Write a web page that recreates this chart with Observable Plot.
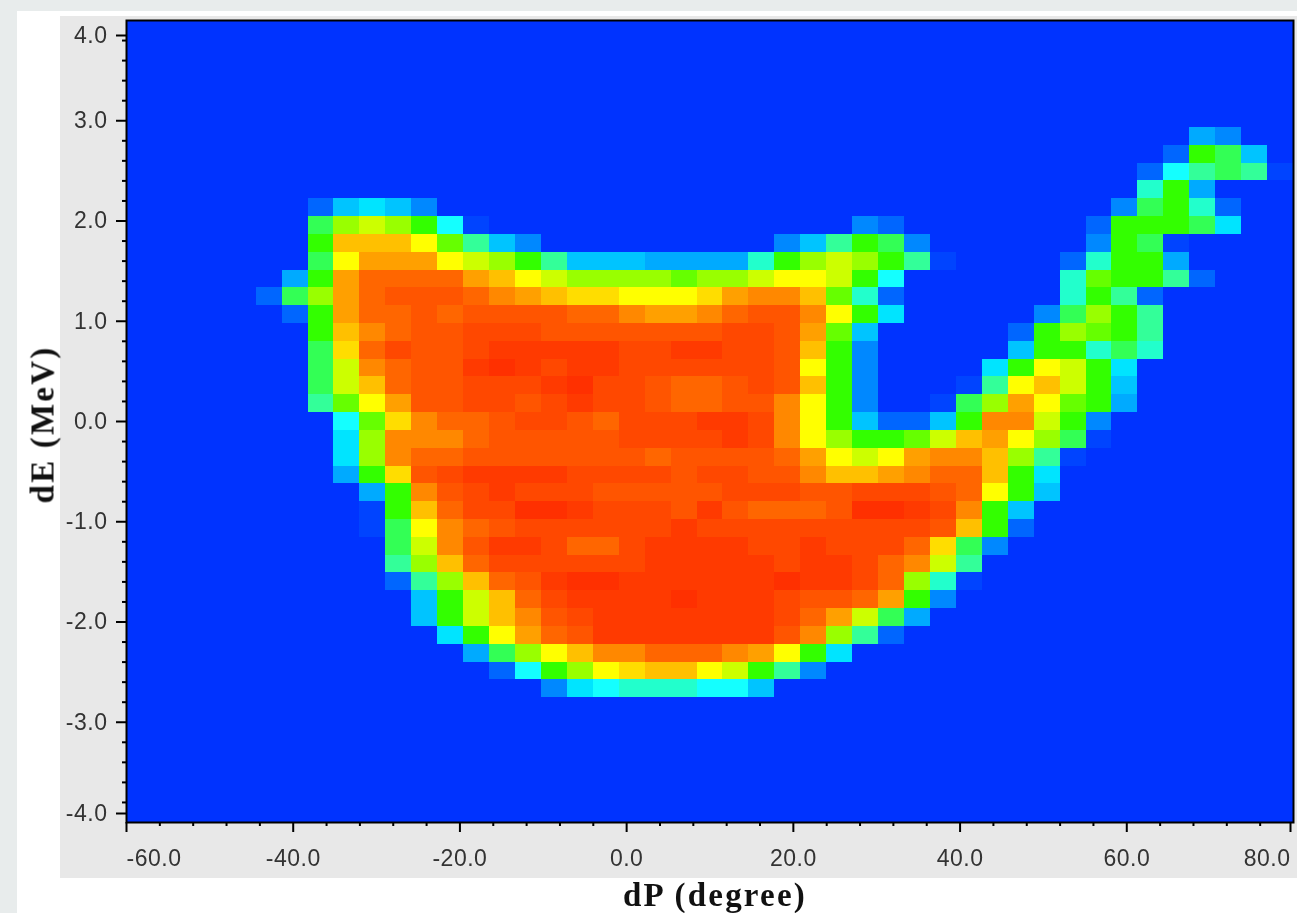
<!DOCTYPE html>
<html>
<head>
<meta charset="utf-8">
<title>dE vs dP</title>
<script src="https://cdn.jsdelivr.net/npm/d3@7"></script>
<script src="https://cdn.jsdelivr.net/npm/@observablehq/plot@0.6"></script>
<style>
html,body{margin:0;padding:0;width:1297px;height:913px;overflow:hidden;background:#e8ecec;}
#sheet{position:absolute;left:17px;top:11px;width:1280px;height:902px;background:#fff;}
#panel{position:absolute;left:60px;top:16px;width:1237px;height:862px;background:#e8e8e8;}
#chart{position:absolute;left:0;top:0;}
#chart svg{display:block;background:transparent;filter:blur(0.7px);}
#chart svg text{filter:blur(0.5px);}
</style>
</head>
<body>
<div id="sheet"></div>
<div id="panel"></div>
<div id="chart"></div>
<script>
// Each row: [first column, intensity levels...] segments. Columns/rows index a 45×45 histogram.
const row6=[[41,4,3]];
const row7=[[40,2,11,10,5]];
const row8=[[39,2,7,9,10,9,1]];
const row9=[[39,8,11,4]];
const row10=[[7,2,5,6,5,3],[38,3,10,11,8,2]];
const row11=[[7,10,13,14,13,11,7,1],[28,3,2],[37,2,11,11,11,10,6]];
const row12=[[7,11,17,17,17,15,12,9,5,3],[25,3,5,9,11,10,3],[37,3,11,10,1]];
const row13=[[7,10,15,18,18,18,15,14,13,11,9,5,5,5,4,4,4,4,8,11,13,14,13,11,9,1],[36,2,8,11,11,4]];
const row14=[[6,4,11,18,20,20,20,20,18,17,15,14,13,13,13,13,12,13,13,14,15,15,14,11,7],[36,8,12,11,11,9,2]];
const row15=[[5,2,10,13,18,20,21,21,21,20,19,18,17,16,16,15,15,15,16,18,19,19,17,12,8,2],[36,8,11,9,2]];
const row16=[[6,2,11,18,20,20,21,20,21,21,21,21,20,20,19,18,18,19,20,21,21,19,15,11,6],[35,3,10,13,11,9]];
const row17=[[7,11,17,19,20,21,21,22,22,22,21,21,21,21,21,21,21,22,22,21,18,12,5],[34,2,11,13,12,11,9]];
const row18=[[7,10,16,20,22,21,21,22,23,23,23,23,23,22,22,23,23,22,22,21,17,11,3],[34,5,11,11,8,10,8]];
const row19=[[7,10,14,19,20,21,21,23,24,23,22,23,23,22,22,22,22,22,22,21,15,11,3],[33,6,11,15,14,11,6]];
const row20=[[7,10,14,17,20,21,21,22,22,22,23,24,22,22,21,20,20,21,22,21,17,11,3],[32,1,9,15,17,14,11,5]];
const row21=[[7,9,12,15,18,21,21,22,22,21,22,23,22,22,21,20,20,21,21,19,15,11,3],[31,1,10,13,18,15,12,11,4]];
const row22=[[8,7,12,16,19,20,20,21,22,22,21,20,22,22,22,23,23,22,19,15,11,5,2,2,5,11,19,19,14,11,3]];
const row23=[[8,6,13,19,19,19,20,21,21,21,21,21,22,22,22,22,23,22,19,15,13,11,11,12,14,17,18,15,13,10,1]];
const row24=[[8,6,13,19,20,20,21,21,21,21,21,21,21,20,21,21,21,21,20,18,15,14,15,18,19,19,17,13,9,1]];
const row25=[[8,4,11,16,21,22,23,23,23,23,22,22,22,22,21,22,22,21,21,19,17,17,18,19,20,20,17,11,6]];
const row26=[[9,4,11,19,21,22,23,22,22,22,21,21,21,21,21,22,22,22,21,21,22,22,22,21,20,15,11,5]];
const row27=[[9,1,11,17,20,22,22,24,24,23,22,22,22,21,23,21,20,20,20,21,24,24,23,22,19,11,5]];
const row28=[[9,1,10,15,19,20,21,22,22,22,22,22,22,23,22,22,22,22,22,22,22,22,22,21,17,11,2]];
const row29=[[10,10,14,19,21,23,23,22,20,20,22,23,23,23,23,22,22,23,22,22,22,20,16,10,3]];
const row30=[[10,9,13,17,20,22,22,22,22,22,22,23,23,23,23,23,22,23,23,22,20,19,14,9]];
const row31=[[10,2,9,13,17,20,21,23,24,24,23,23,23,23,23,23,24,23,23,22,20,13,8,1]];
const row32=[[11,5,11,14,17,20,22,23,23,23,23,24,23,23,23,22,21,21,20,18,11,3]];
const row33=[[11,5,11,14,17,19,21,22,23,23,23,23,23,23,23,22,20,18,14,10,4]];
const row34=[[12,6,11,15,18,20,21,23,23,23,23,23,23,23,21,19,13,9,2]];
const row35=[[13,4,10,13,15,17,19,19,20,20,20,19,18,15,11,6]];
const row36=[[14,2,7,11,13,15,16,17,17,15,14,11,9,3]];
const row37=[[16,3,6,7,8,8,8,7,7,5]];

const rows=[row6,row7,row8,row9,row10,row11,row12,row13,row14,row15,row16,row17,row18,row19,row20,row21,
  row22,row23,row24,row25,row26,row27,row28,row29,row30,row31,row32,row33,row34,row35,row36,row37];
const firstRow=6;

const levels=d3.range(25);
const levelColors=["#0033ff","#0044ff","#0066ff","#0088ff","#00aaff","#00c4ff","#00e4ff","#14ffff","#22ffcc","#33ff99","#33ff55","#33ff00",
  "#66ff00","#99ff00","#ccff00","#ffff00","#ffdd00","#ffc000","#ffa000","#ff8800","#ff6600","#ff5500","#ff4800","#ff3a00","#ff3000"];

const xDomain=[-60,80], yDomain=[-4,4], bins=45;
const xMajor=[-40,-20,0,20,40,60];
const xMinor=d3.range(-60,81,4).filter(d=>d%20!==0);
const yMajor=[-3,-2,-1,0,1,2,3];
const yMinor=d3.range(-40,41,2).filter(d=>d%10!==0).map(d=>d/10);
const fmt=d=>d.toFixed(1);
const blank=()=>"";

const dx=(xDomain[1]-xDomain[0])/bins, dy=(yDomain[1]-yDomain[0])/bins;
const cells=rows.flatMap((segments,i)=>segments.flatMap(([start,...vals])=>vals.map((level,j)=>({
  x1:xDomain[0]+(start+j)*dx,
  x2:xDomain[0]+(start+j+1)*dx,
  y2:yDomain[1]-(i+firstRow)*dy,
  y1:yDomain[1]-(i+firstRow+1)*dy,
  level
}))));

const tickFont={fontSize:23,fontFamily:"Liberation Sans, Arial, sans-serif"};
const xTitle="dP (degree)", yTitle="dE (MeV)";
const titleFont={fontSize:33,fontWeight:"bold",fontFamily:"Liberation Serif, serif",fill:"#111"};
const chart=Plot.plot({
  width:1297,height:913,
  marginLeft:126,marginRight:4,marginTop:20,marginBottom:91,
  style:{background:"transparent",color:"#333"},
  x:{domain:xDomain},
  y:{domain:yDomain},
  color:{type:"linear",domain:levels,range:levelColors},
  marks:[
    Plot.frame({fill:levelColors[0],stroke:"none"}),
    Plot.rect(cells,{x1:"x1",x2:"x2",y1:"y1",y2:"y2",fill:"level",shapeRendering:"crispEdges"}),
    Plot.frame({stroke:"#000",strokeWidth:2}),
    // x axis
    Plot.axisX({ticks:xMinor,tickSize:4,tickFormat:blank,label:null,stroke:"#000",strokeWidth:2}),
    Plot.axisX({ticks:xMajor,tickSize:10,tickPadding:17,tickFormat:fmt,label:null,stroke:"#000",strokeWidth:2,...tickFont}),
    Plot.axisX({ticks:[-60],tickSize:10,tickPadding:17,tickFormat:fmt,label:null,textAnchor:"start",stroke:"#000",strokeWidth:2,...tickFont}),
    Plot.axisX({ticks:[80],tickSize:10,tickPadding:17,tickFormat:fmt,label:null,textAnchor:"end",dx:-3,stroke:"#000",strokeWidth:2,...tickFont}),
    // y axis
    Plot.axisY({ticks:yMinor,tickSize:4,tickFormat:blank,label:null,stroke:"#000",strokeWidth:2}),
    Plot.axisY({ticks:yMajor,tickSize:10,tickPadding:9,tickFormat:fmt,label:null,stroke:"#000",strokeWidth:2,...tickFont}),
    Plot.axisY({ticks:[4],tickSize:10,tickPadding:9,tickFormat:fmt,label:null,dy:15,stroke:"#000",strokeWidth:2,...tickFont}),
    Plot.axisY({ticks:[-4],tickSize:10,tickPadding:9,tickFormat:fmt,label:null,dy:-9,stroke:"#000",strokeWidth:2,...tickFont}),
    // axis titles
    Plot.text([xTitle],{frameAnchor:"bottom",dx:5,dy:83,...titleFont}),
    Plot.text([yTitle],{frameAnchor:"left",textAnchor:"middle",rotate:-90,dx:-84,dy:3,...titleFont})
  ]
});
d3.select(chart).selectAll("text").each(function(){
  const t=this.textContent;
  this.style.letterSpacing=(t===xTitle||t===yTitle)?"2.2px":"0.5px";
});
document.getElementById("chart").appendChild(chart);
</script>
</body>
</html>
